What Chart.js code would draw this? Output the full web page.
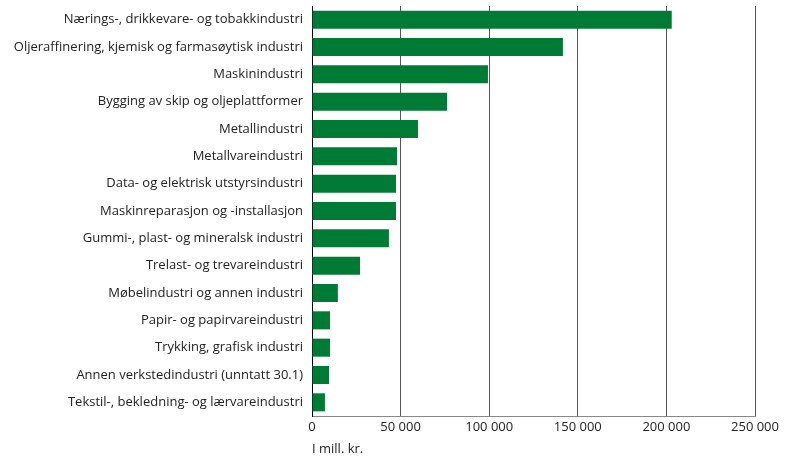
<!DOCTYPE html>
<html>
<head>
<meta charset="utf-8">
<script src="https://cdn.jsdelivr.net/npm/chart.js@4/dist/chart.umd.min.js"></script>
<style>
  html, body { margin: 0; padding: 0; background: #fff; }
  #wrap { width: 785px; height: 457px; }
</style>
</head>
<body>
<div id="wrap"><canvas id="industryChart"></canvas></div>
<script>
// --- Data ---
const industries = [
    'Nærings-, drikkevare- og tobakkindustri',
    'Oljeraffinering, kjemisk og farmasøytisk industri',
    'Maskinindustri',
    'Bygging av skip og oljeplattformer',
    'Metallindustri',
    'Metallvareindustri',
    'Data- og elektrisk utstyrsindustri',
    'Maskinreparasjon og -installasjon',
    'Gummi-, plast- og mineralsk industri',
    'Trelast- og trevareindustri',
    'Møbelindustri og annen industri',
    'Papir- og papirvareindustri',
    'Trykking, grafisk industri',
    'Annen verkstedindustri (unntatt 30.1)',
    'Tekstil-, bekledning- og lærvareindustri'
];
const values = [
    203000, 141600, 99300, 76200, 59800,
    48000, 47400, 47400, 43400, 27100,
    14600, 10200, 10200, 9600, 7300
];
const xMax = 250000;
const xStep = 50000;
const unitLabel = 'I mill. kr.';

const barColor = '#007b36';
const fontFamily = '"Open Sans", "Noto Sans", sans-serif';

const ctx = document.getElementById('industryChart');
new Chart(ctx.getContext('2d'), {
    type: 'bar',
    data: {
        labels: industries,
        datasets: [{
            data: values,
            backgroundColor: barColor,
            borderWidth: 0,
            barPercentage: 0.66,
            categoryPercentage: 1.0
        }]
    },
    options: {
        indexAxis: 'y',
        responsive: true,
        maintainAspectRatio: false,
        animation: false,
        layout: { padding: { top: 6, right: 30, left: 0, bottom: 0 } },
        plugins: {
            legend: { display: false },
            tooltip: { enabled: false }
        },
        scales: {
            x: {
                min: 0,
                max: xMax,
                ticks: {
                    stepSize: xStep,
                    color: '#222',
                    font: { family: fontFamily, size: 13 },
                    padding: 3,
                    callback: v => String(v).replace(/\B(?=(\d{3})+(?!\d))/g, ' ')
                },
                grid: { color: '#555', lineWidth: 1, drawTicks: false },
                border: { color: '#888', width: 1 },
                title: {
                    display: true,
                    text: unitLabel,
                    align: 'start',
                    color: '#222',
                    font: { family: fontFamily, size: 13 },
                    padding: { top: 2, bottom: 0 }
                },
                afterFit: scale => { scale.height = 41; }
            },
            y: {
                ticks: {
                    color: '#222',
                    font: { family: fontFamily, size: 13 },
                    padding: 9
                },
                grid: { display: false, drawTicks: false },
                border: { color: '#000', width: 1 },
                afterFit: scale => {
                    scale.width = 312;
                    scale.paddingTop = 0;
                    scale.paddingBottom = 0;
                }
            }
        }
    }
});
</script>
</body>
</html>
